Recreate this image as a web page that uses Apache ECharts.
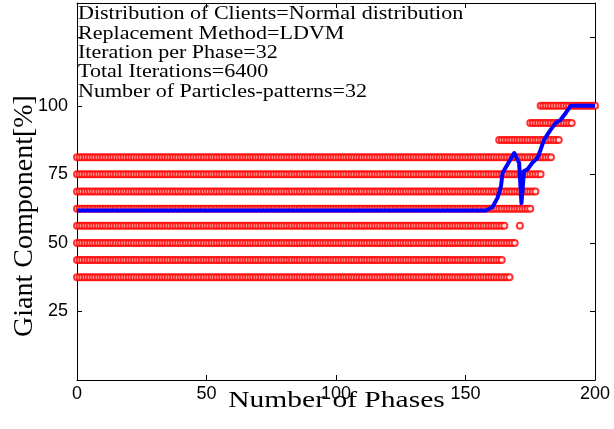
<!DOCTYPE html>
<html>
<head>
<meta charset="utf-8">
<script src="https://cdn.jsdelivr.net/npm/echarts@6/dist/echarts.min.js"></script>
<style>
html,body{margin:0;padding:0;background:#fff;}
#chart{width:614px;height:429px;}
</style>
</head>
<body>
<div id="chart"></div>
<script>
// ---- data ----
const infoLines = [
  'Distribution of Clients=Normal distribution',
  'Replacement Method=LDVM',
  'Iteration per Phase=32',
  'Total Iterations=6400',
  'Number of Particles-patterns=32'
];
const xTicks = [0, 50, 100, 150, 200];
const yTicks = [25, 50, 75, 100];

// giant-component levels of the red markers (per particle) and the phase runs where they appear
const levels = [37.5, 43.75, 50, 56.25, 62.5, 68.75, 75, 81.25, 87.5, 93.75, 100];
const levelRuns = [
  [[0, 167]],
  [[0, 164]],
  [[0, 169]],
  [[0, 165], [171, 171]],
  [[0, 175]],
  [[0, 177]],
  [[0, 179]],
  [[0, 183]],
  [[163, 186]],
  [[175, 191]],
  [[179, 200]]
];

// mean giant component (blue line)
const meanPhase = [0, 157.8, 160.4, 162.4, 163.7, 164.3, 166.2, 168.8, 170.7, 171.6, 172.6, 173.9, 175.8, 177.8, 179, 180.3, 182.9, 184.8, 186.8, 188.7, 190.6, 200];
const meanValue = [61.8, 61.8, 63, 66.5, 70.7, 75.5, 78.6, 82.8, 79.2, 64.5, 76.2, 76.8, 79.2, 81, 84, 87.6, 91.3, 93.7, 95, 97.4, 100, 100];

// ---- build series data ----
const particlePoints = [];
levels.forEach(function (lv, i) {
  levelRuns[i].forEach(function (run) {
    for (let p = run[0]; p <= run[1]; p++) particlePoints.push([p, lv]);
  });
});
const meanPoints = meanPhase.map(function (p, i) { return [p, meanValue[i]]; });

const chart = echarts.init(document.getElementById('chart'), null, {renderer: 'canvas'});
const tickStyle = {show: true, inside: true, length: 5, lineStyle: {color: '#000', width: 1}};
const axLine = {show: true, onZero: false, lineStyle: {color: '#000', width: 1}};
const serif = '"Liberation Serif", "Times New Roman", serif';
const sans = '"Liberation Sans", Arial, sans-serif';

const graphics = infoLines.map(function (t, i) {
  return {
    type: 'text', x: 78, y: 14.3 + i * 19.4, scaleX: 1.16, originX: 0, z: 100,
    style: {text: t, fontFamily: serif, fontSize: 19, fill: '#000', textAlign: 'left', textVerticalAlign: 'middle'}
  };
});
graphics.push({
  type: 'text', x: 336.5, y: 400.8, scaleX: 1.23, z: 100,
  style: {text: 'Number of Phases', fontFamily: serif, fontSize: 24, fill: '#000', textAlign: 'center', textVerticalAlign: 'middle'}
});
graphics.push({
  type: 'text', x: 24.6, y: 216, rotation: Math.PI / 2, z: 100,
  style: {text: 'Giant Component[%]', fontFamily: serif, fontSize: 28, fill: '#000', textAlign: 'center', textVerticalAlign: 'middle'}
});

chart.setOption({
  animation: false,
  backgroundColor: '#fff',
  grid: {left: 77, right: 19, top: 3, bottom: 49, containLabel: false},
  xAxis: [{
    type: 'value', min: 0, max: 200, interval: 50, position: 'bottom',
    axisLine: axLine, axisTick: tickStyle, splitLine: {show: false},
    axisLabel: {show: true, margin: 5, color: '#000', fontFamily: sans, fontSize: 18}
  }, {
    type: 'value', min: 0, max: 200, interval: 50, position: 'top',
    axisLine: axLine, axisTick: tickStyle, splitLine: {show: false},
    axisLabel: {show: false}
  }],
  yAxis: [{
    type: 'value', min: 0, max: 137.5, interval: 25, position: 'left',
    axisLine: axLine, axisTick: tickStyle, splitLine: {show: false},
    axisLabel: {show: true, margin: 9, color: '#000', fontFamily: sans, fontSize: 18,
      formatter: function (v) { return yTicks.indexOf(v) >= 0 ? String(v) : ''; }}
  }, {
    type: 'value', min: 0, max: 137.5, interval: 25, position: 'right',
    axisLine: axLine, axisTick: tickStyle, splitLine: {show: false},
    axisLabel: {show: false}
  }],
  graphic: graphics,
  series: [{
    type: 'scatter', name: 'particles', data: particlePoints,
    symbol: 'emptyCircle', symbolSize: 6, clip: false,
    itemStyle: {color: '#ff0000', borderColor: '#ff0000', borderWidth: 1.2},
    xAxisIndex: 0, yAxisIndex: 0, z: 2
  }, {
    type: 'line', name: 'mean', data: meanPoints, showSymbol: false, symbol: 'none', clip: false,
    lineStyle: {color: '#0000ff', width: 4, join: 'round'},
    xAxisIndex: 0, yAxisIndex: 0, z: 3
  }]
});
</script>
</body>
</html>
